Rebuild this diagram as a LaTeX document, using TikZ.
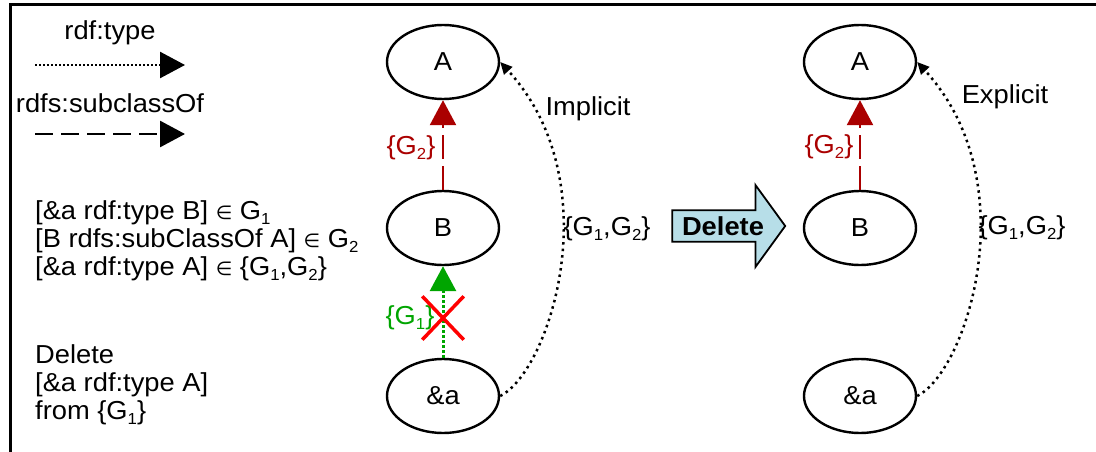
\documentclass[tikz,border=0pt]{standalone}
\usepackage{fontspec}
\setmainfont{Liberation Sans}[FakeStretch=1.05]
\newfontfamily\dejavu{DejaVu Sans}
\usetikzlibrary{arrows.meta,shapes.geometric,shapes.misc,shapes.arrows}
\definecolor{dred}{RGB}{170,0,0}
\definecolor{dgreen}{RGB}{0,165,0}
\definecolor{arrowfill}{RGB}{183,222,232}
\newcommand\sbs[1]{\raisebox{-0.2em}{\fontsize{16}{16}\selectfont #1}}
\newcommand\elm{{\dejavu\fontsize{19}{19}\selectfont ∈}}
\begin{document}
\begin{tikzpicture}[x=1pt,y=-1pt,
  font=\fontsize{26}{30}\selectfont,
  res/.style={ellipse, draw, line width=2.4pt, minimum width=112pt, minimum height=74pt, inner sep=0pt},
  txt/.style={inner sep=0pt, anchor=base west, text height=17pt, text depth=5pt},
  lbl/.style={inner sep=0pt},
  bigtip/.style={-{Triangle[width=26pt,length=25pt]}},
  smalltip/.style={-{Triangle[width=11pt,length=12pt]}},
  typeline/.style={line width=2.5pt, dash pattern=on 2pt off 2pt},
  subline/.style={line width=2.8pt, dash pattern=on 18pt off 8pt},
  curveline/.style={line width=2.5pt, dash pattern=on 2.5pt off 4pt},
  delarrow/.style={single arrow, draw, line width=1.8pt, fill=arrowfill, minimum height=113pt, minimum width=82pt, single arrow head extend=20pt, single arrow tip angle=108, inner sep=2pt, font=\fontsize{26}{30}\selectfont\bfseries}
]
\useasboundingbox (0,0) rectangle (1096,452);
% frame
\coordinate (fbl) at (10,452);
\coordinate (ftl) at (10,5);
\coordinate (ftr) at (1096,5);
\draw[line width=3pt] (fbl) -- (ftl) -- (ftr);

% legend
\node[lbl] (ltype) at (110,33) {rdf:type};
\coordinate (t1) at (35,65);
\coordinate (t2) at (185,65);
\draw[typeline, bigtip] (t1) -- (t2);
\node[lbl] (lsub) at (110,103) {rdfs:subclassOf};
\coordinate (s1) at (35,134);
\coordinate (s2) at (185,134);
\draw[subline, bigtip] (s1) -- (s2);

% left text
\node[txt] (l1) at (35,219) {[\&a rdf:type B] \elm\ G\sbs{1}};
\node[txt] (l2) at (35,247) {[B rdfs:subClassOf A] \elm\ G\sbs{2}};
\node[txt] (l3) at (35,275) {[\&a rdf:type A] \elm\ \{G\sbs{1},G\sbs{2}\}};
\node[txt] (l4) at (35,363) {Delete};
\node[txt] (l5) at (35,391) {[\&a rdf:type A]};
\node[txt] (l6) at (35,419) {from \{G\sbs{1}\}};

% left graph
\node[res] (A) at (443,62) {A};
\node[res] (B) at (443,228) {B};
\node[res] (a) at (443,396) {\&a};
\draw[dred, line width=2.5pt, dash pattern=on 24pt off 7pt, bigtip] (B.north) -- (A.south);
\draw[dgreen, line width=3pt, dash pattern=on 2.5pt off 2.5pt, bigtip] (a.north) -- (B.south);
\node[lbl, text=dred] (g2) at (411,148) {\{G\sbs{2}\}};
\node[lbl, text=dgreen] (g1) at (410,318) {\{G\sbs{1}\}};
\node[cross out, draw=red, line width=3.5pt, minimum width=38pt, minimum height=40pt, inner sep=0pt] (X) at (443,318) {};
\draw[curveline, smalltip] (a.east) .. controls +(50,-25) and +(110,120) .. (A.east);
\node[lbl] (impl) at (588,109) {Implicit};
\node[lbl] (g12) at (607,229) {\{G\sbs{1},G\sbs{2}\}};

% delete arrow
\node[delarrow] (del) at (723,226) {Delete};

% right graph
\node[res] (A2) at (860,62) {A};
\node[res] (B2) at (860,228) {B};
\node[res] (a2) at (860,396) {\&a};
\draw[dred, line width=2.5pt, dash pattern=on 24pt off 7pt, bigtip] (B2.north) -- (A2.south);
\node[lbl, text=dred] (g2r) at (829,147) {\{G\sbs{2}\}};
\draw[curveline, smalltip] (a2.east) .. controls +(50,-25) and +(110,120) .. (A2.east);
\node[lbl] (expl) at (1005,97) {Explicit};
\node[lbl] (g12r) at (1022,228) {\{G\sbs{1},G\sbs{2}\}};
\end{tikzpicture}
\end{document}
